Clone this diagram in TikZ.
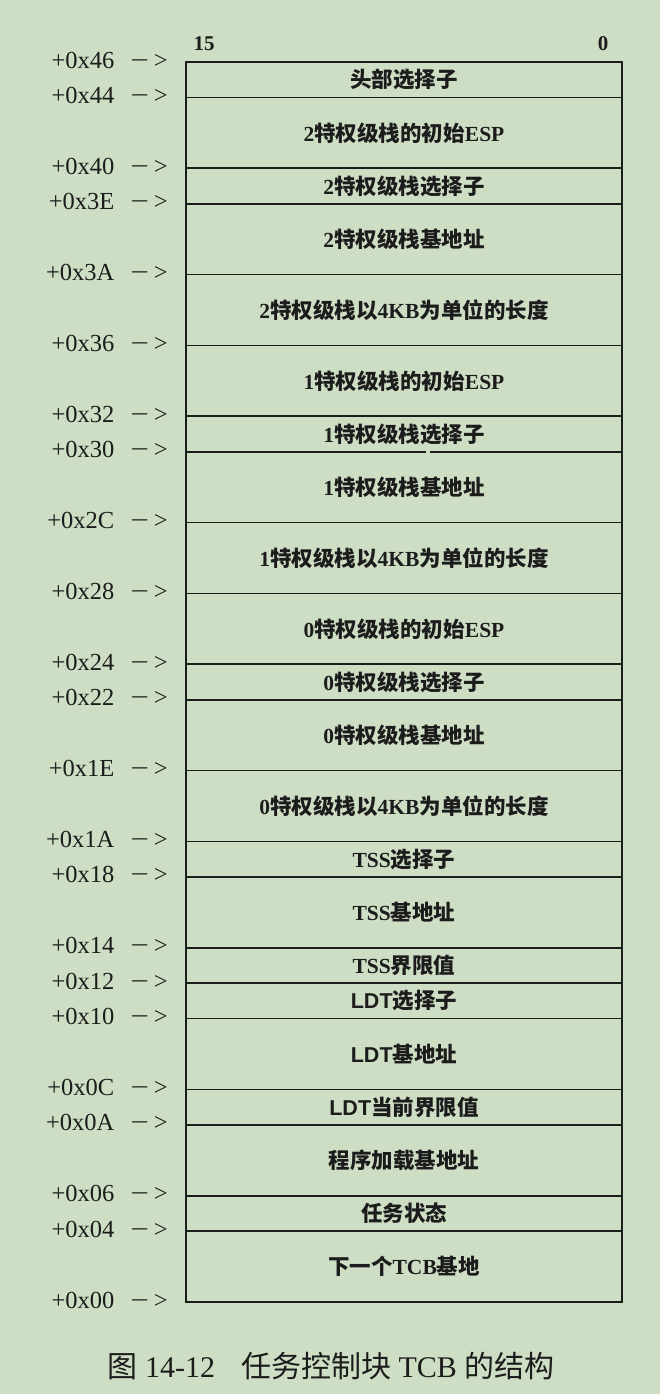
\documentclass[tikz,border=0pt]{standalone}
\usepackage{graphicx}
\usepackage{fontspec}
\setmainfont{Liberation Serif}
\newfontfamily\cjk{Noto Sans CJK SC}
\newfontfamily\lsans{Liberation Sans}
\newcommand\C[1]{{\cjk #1}}
\newcommand\Ls[1]{{\lsans #1}}
\definecolor{bg}{RGB}{206,222,196}
\definecolor{ink}{RGB}{28,28,28}
\begin{document}
\begin{tikzpicture}[x=1pt,y=-1pt,
  cell/.style={font=\fontsize{21.5}{21.5}\selectfont\bfseries, text=ink, inner sep=0pt},
  addr/.style={font=\fontsize{24.5}{24.5}\selectfont, text=ink, anchor=east, inner sep=0pt},
  bits/.style={font=\fontsize{21}{21}\selectfont\bfseries, text=ink, inner sep=0pt},
  rowline/.style={draw=ink, line width=1.8pt},
  caption/.style={font=\fontsize{30}{30}\selectfont, text=ink, inner sep=0pt}]
\fill[bg] (0,0) rectangle (660,1394);
\useasboundingbox (0,0) rectangle (660,1394);
% outer frame
\draw[rowline] (186,62) rectangle (622,1302);
% row lines
\foreach \o in {68,64,62,58,54,50,44,40,36,34,30,26,24,20,18,16,12,10,6,4}{
  \draw[rowline] (186,{1302-\o*17.714}) -- (622,{1302-\o*17.714});
}
% line at 0x30 with a small break
\draw[rowline] (186,{1302-48*17.714}) -- (426,{1302-48*17.714});
\draw[rowline] (430,{1302-48*17.714}) -- (622,{1302-48*17.714});
% address labels
\foreach \o/\lab in {70/46,68/44,64/40,62/3E,58/3A,54/36,50/32,48/30,44/2C,40/28,36/24,34/22,30/1E,26/1A,24/18,20/14,18/12,16/10,12/0C,10/0A,6/06,4/04,0/00}{
  \node[addr] (a\lab) at (168,{1300-\o*17.714}) {+0x\lab\hspace{16pt}\scalebox{1.35}[1]{−}\hspace{5pt}>};
}
% bit numbers
\node[bits] (b15) at (204,44) {15};
\node[bits] (b0) at (603,44) {0};
% cell texts
\foreach \t/\b/\n/\txt in {
  70/68/r1/\C{头部选择子},
  68/64/r2/2\C{特权级栈的初始}ESP,
  64/62/r3/2\C{特权级栈选择子},
  62/58/r4/2\C{特权级栈基地址},
  58/54/r5/2\C{特权级栈以}4KB\C{为单位的长度},
  54/50/r6/1\C{特权级栈的初始}ESP,
  50/48/r7/1\C{特权级栈选择子},
  48/44/r8/1\C{特权级栈基地址},
  44/40/r9/1\C{特权级栈以}4KB\C{为单位的长度},
  40/36/r10/0\C{特权级栈的初始}ESP,
  36/34/r11/0\C{特权级栈选择子},
  34/30/r12/0\C{特权级栈基地址},
  30/26/r13/0\C{特权级栈以}4KB\C{为单位的长度},
  26/24/r14/TSS\C{选择子},
  24/20/r15/TSS\C{基地址},
  20/18/r16/TSS\C{界限值},
  18/16/r17/\Ls{LDT}\C{选择子},
  16/12/r18/\Ls{LDT}\C{基地址},
  12/10/r19/\Ls{LDT}\C{当前界限值},
  10/6/r20/\C{程序加载基地址},
  6/4/r21/\C{任务状态},
  4/0/r22/\C{下一个}TCB\C{基地}}{
  \node[cell] (\n) at (404,{1302-(\t+\b)/2*17.714}) {\txt};
}
% caption
\node[caption] (cap) at (331,1366) {\C{图} 14-12\hspace{26pt}\C{任务控制块} TCB \C{的结构}};
\end{tikzpicture}
\end{document}
